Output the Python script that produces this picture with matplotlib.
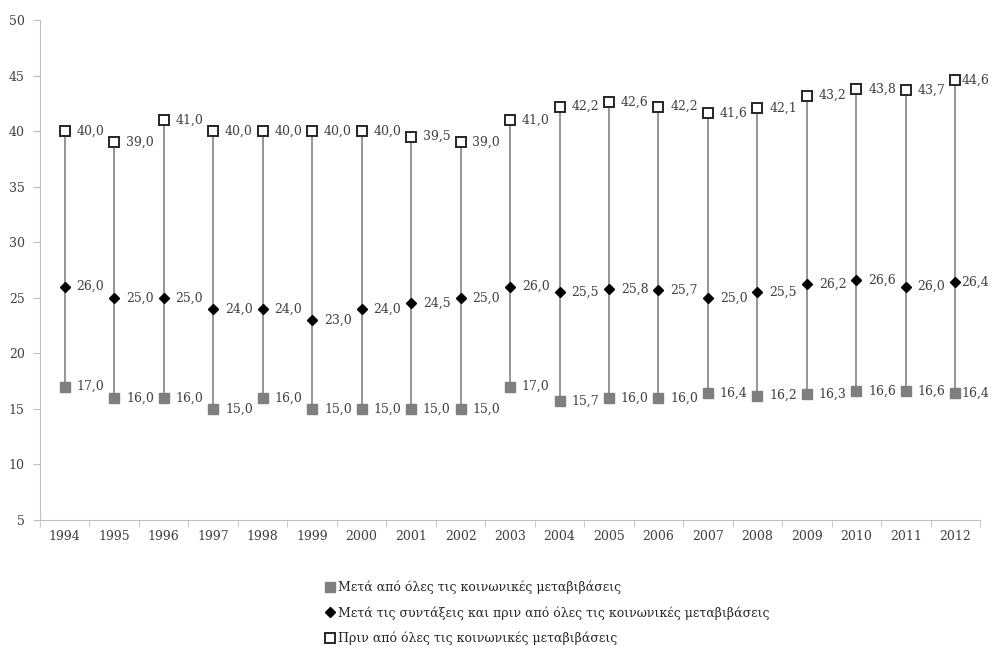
import matplotlib.pyplot as plt

years = [str(y) for y in range(1994, 2013)]
after_all = [17.0, 16.0, 16.0, 15.0, 16.0, 15.0, 15.0, 15.0, 15.0, 17.0,
             15.7, 16.0, 16.0, 16.4, 16.2, 16.3, 16.6, 16.6, 16.4]
after_pensions = [26.0, 25.0, 25.0, 24.0, 24.0, 23.0, 24.0, 24.5, 25.0, 26.0,
                  25.5, 25.8, 25.7, 25.0, 25.5, 26.2, 26.6, 26.0, 26.4]
before_all = [40.0, 39.0, 41.0, 40.0, 40.0, 40.0, 40.0, 39.5, 39.0, 41.0,
              42.2, 42.6, 42.2, 41.6, 42.1, 43.2, 43.8, 43.7, 44.6]

labels = ['Μετά από όλες τις κοινωνικές μεταβιβάσεις',
          'Μετά τις συντάξεις και πριν από όλες τις κοινωνικές μεταβιβάσεις',
          'Πριν από όλες τις κοινωνικές μεταβιβάσεις']

plt.rcParams['font.family'] = ['DejaVu Serif']
fig = plt.figure(figsize=(9.93, 6.46), dpi=100)
ax = fig.add_axes([0.0403, 0.195, 0.9467, 0.774])

x = list(range(len(years)))

# γραμμές υψηλού-χαμηλού
ax.vlines(x, after_all, before_all, color='#8c8c8c', linewidth=1.3, zorder=1)

ax.plot(x, after_all, linestyle='none', marker='s', markersize=6.5,
        color='#7f7f7f', label=labels[0], zorder=3)
ax.plot(x, after_pensions, linestyle='none', marker='D', markersize=5.5,
        color='black', label=labels[1], zorder=3)
ax.plot(x, before_all, linestyle='none', marker='s', markersize=7.5,
        markerfacecolor='white', markeredgecolor='#262626', markeredgewidth=1.4,
        label=labels[2], zorder=3)

fmt = lambda v: f'{v:.1f}'.replace('.', ',')
for series in (after_all, after_pensions, before_all):
    for xi, v in zip(x, series):
        dx = 8.5 if xi < len(years) - 1 else 4.5
        ax.annotate(fmt(v), (xi, v), xytext=(dx, 0), textcoords='offset points',
                    ha='left', va='center', fontsize=9, color='#404040')

ax.set_xlim(-0.5, len(years) - 0.5)
ax.set_ylim(5, 50)
ax.set_yticks(range(5, 51, 5))
ax.set_xticks(x)
ax.set_xticklabels(years)
ax.set_xticks([i - 0.5 for i in range(len(years) + 1)], minor=True)
ax.tick_params(axis='x', which='major', length=0, pad=7, labelsize=9,
               labelcolor='#404040')
ax.tick_params(axis='x', which='minor', length=5, color='#bfbfbf')
ax.tick_params(axis='y', length=5, color='#bfbfbf', labelsize=9, pad=6,
               labelcolor='#404040')

for side in ('top', 'right'):
    ax.spines[side].set_visible(False)
for side in ('left', 'bottom'):
    ax.spines[side].set_color('#bfbfbf')

fig.legend(loc='center left', bbox_to_anchor=(0.322, 0.051), frameon=False,
           fontsize=9, handletextpad=0.15, handlelength=0.9, labelspacing=0.95,
           borderaxespad=0, labelcolor='#262626')

fig.savefig('out.png', dpi=100)
